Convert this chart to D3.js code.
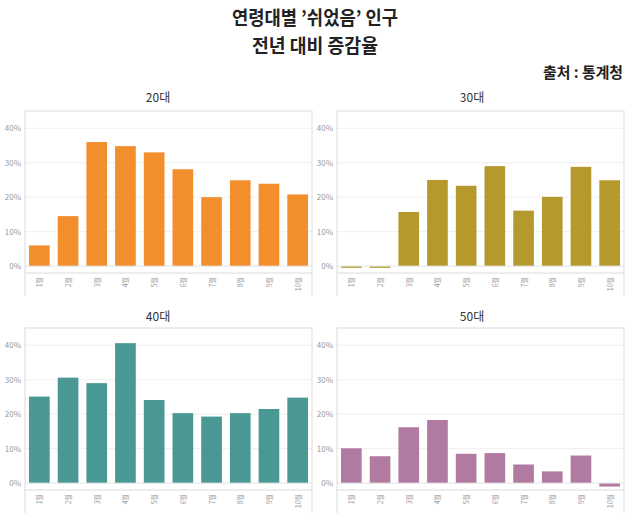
<!DOCTYPE html>
<html>
<head>
<meta charset="utf-8">
<script src="https://cdn.jsdelivr.net/npm/d3@7"></script>
<style>
  html, body { margin: 0; padding: 0; background: #fff; }
  svg { display: block; }
</style>
</head>
<body>
<svg id="chart" width="630" height="521"></svg>
<script>
// ---- data ----
const months = ["1월", "2월", "3월", "4월", "5월", "6월", "7월", "8월", "9월", "10월"];
const ageGroups = ["20대", "30대", "40대", "50대"];
const values20s = [6.0, 14.5, 36.0, 34.8, 33.0, 28.1, 20.0, 24.9, 23.9, 20.8];
const values30s = [-0.5, -0.5, 15.7, 25.0, 23.3, 29.0, 16.1, 20.1, 28.8, 24.9];
const values40s = [25.1, 30.6, 29.0, 40.6, 24.1, 20.3, 19.3, 20.3, 21.5, 24.8];
const values50s = [10.1, 7.8, 16.2, 18.3, 8.5, 8.7, 5.4, 3.4, 8.0, -1.0];
const yTicks = [0, 10, 20, 30, 40];
const titleLines = ["연령대별 ’쉬었음’ 인구", "전년 대비 증감율"];
const sourceText = "출처 : 통계청";

// ---- styles ----
const seriesColors = ["#F28E2B", "#B6992D", "#499894", "#B07AA1"];
const series = [values20s, values30s, values40s, values50s];
const font = "'Noto Sans CJK KR', 'Noto Sans', sans-serif";

const svg = d3.select("#chart");

// titles
svg.append("text").attr("x", 315).attr("y", 25).attr("text-anchor", "middle")
  .attr("font-family", font).attr("font-weight", 700).attr("font-size", 19)
  .attr("fill", "#222").attr("textLength", 166).attr("lengthAdjust", "spacingAndGlyphs")
  .text(titleLines[0]);
svg.append("text").attr("x", 315).attr("y", 53).attr("text-anchor", "middle")
  .attr("font-family", font).attr("font-weight", 700).attr("font-size", 19)
  .attr("fill", "#222").attr("textLength", 126).attr("lengthAdjust", "spacingAndGlyphs")
  .text(titleLines[1]);
svg.append("text").attr("x", 623).attr("y", 78).attr("text-anchor", "end")
  .attr("font-family", font).attr("font-weight", 700).attr("font-size", 15)
  .attr("fill", "#222").attr("textLength", 80).attr("lengthAdjust", "spacingAndGlyphs")
  .text(sourceText);

// panel layout
const colLeft = [25, 337], colRight = [312, 624], colTitle = [158, 472];
const rowTop = [111, 328], rowTitle = [102, 321];
const plotH = 162, bandH = 23;

ageGroups.forEach((age, i) => {
  const col = i % 2, row = Math.floor(i / 2);
  const left = colLeft[col], right = colRight[col];
  const top = rowTop[row], bottom = top + plotH;

  const x = d3.scaleBand().domain(months).range([left, right])
    .paddingInner(0.28).paddingOuter(0.14);
  const y = d3.scaleLinear().domain([-2, 45]).range([bottom, top]);

  const g = svg.append("g");

  // panel title
  g.append("text").attr("x", colTitle[col]).attr("y", rowTitle[row])
    .attr("text-anchor", "middle").attr("font-family", font)
    .attr("font-size", 12).attr("fill", "#333").text(age);

  // gridlines
  g.selectAll(".grid").data(yTicks.filter(t => t !== 0)).enter().append("line")
    .attr("x1", left).attr("x2", right)
    .attr("y1", d => y(d)).attr("y2", d => y(d))
    .attr("stroke", "#efefef").attr("stroke-width", 1);

  // frame
  g.append("rect").attr("x", left).attr("y", top)
    .attr("width", right - left).attr("height", plotH)
    .attr("fill", "none").attr("stroke", "#dcdcdc").attr("stroke-width", 1);
  g.append("line").attr("x1", left).attr("x2", left)
    .attr("y1", bottom).attr("y2", bottom + bandH)
    .attr("stroke", "#dcdcdc");
  g.append("line").attr("x1", right).attr("x2", right)
    .attr("y1", bottom).attr("y2", bottom + bandH)
    .attr("stroke", "#dcdcdc");

  // y axis labels
  const yAxis = d3.axisLeft(y).tickValues(yTicks).tickSize(0).tickPadding(4)
    .tickFormat(d => d + "%");
  const ya = g.append("g").attr("transform", `translate(${left},0)`).call(yAxis);
  ya.select(".domain").remove();
  ya.selectAll("text").attr("font-family", font).attr("font-size", 8).attr("fill", "#999");

  // bars
  g.selectAll(".bar").data(series[i]).enter().append("rect")
    .attr("x", (d, j) => x(months[j]))
    .attr("width", x.bandwidth())
    .attr("y", d => y(Math.max(0, d)))
    .attr("height", d => Math.abs(y(d) - y(0)))
    .attr("fill", seriesColors[i]);

  // zero line
  g.append("line").attr("x1", left).attr("x2", right)
    .attr("y1", y(0)).attr("y2", y(0))
    .attr("stroke", "#e3e3e3").attr("stroke-width", 1);

  // x labels rotated
  const xa = g.append("g").attr("transform", `translate(0,${bottom})`)
    .call(d3.axisBottom(x).tickSize(0).tickPadding(0));
  xa.select(".domain").remove();
  xa.selectAll(".tick text")
    .attr("font-family", font).attr("font-size", 7).attr("fill", "#999")
    .attr("text-anchor", "end").attr("dominant-baseline", "central")
    .attr("dy", null).attr("y", 0)
    .attr("transform", "translate(0,4) rotate(-90)");
});
</script>
</body>
</html>
